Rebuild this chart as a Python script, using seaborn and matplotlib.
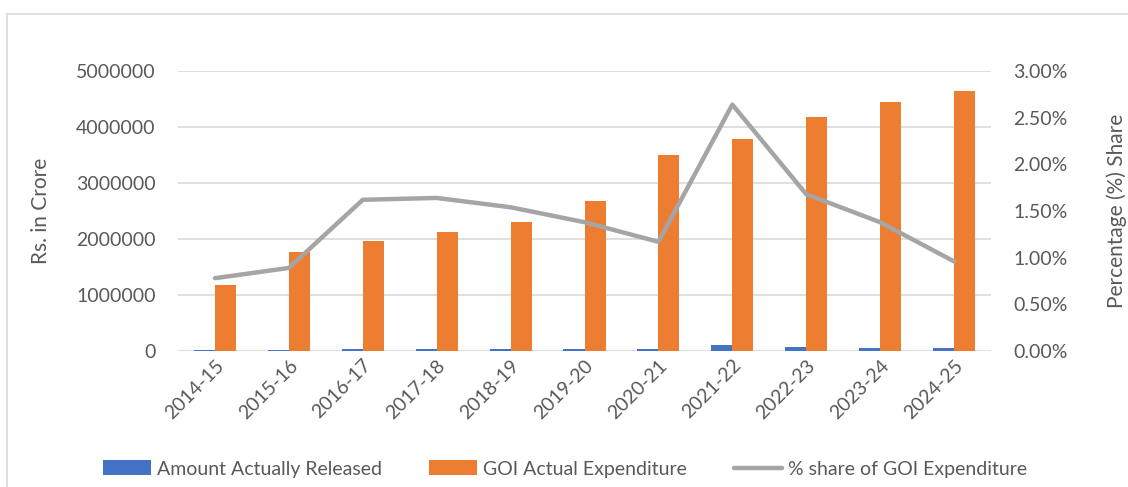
import matplotlib
matplotlib.use("Agg")
import matplotlib.pyplot as plt
import matplotlib.ticker as mticker
from matplotlib.lines import Line2D
from matplotlib.patches import Patch
import pandas as pd
import seaborn as sns

years = ["2014-15", "2015-16", "2016-17", "2017-18", "2018-19", "2019-20",
         "2020-21", "2021-22", "2022-23", "2023-24", "2024-25"]
amount_released = [9000, 16000, 32000, 35000, 35000, 37000,
                   41000, 100000, 70000, 61000, 45000]
goi_expenditure = [1180000, 1770000, 1960000, 2130000, 2300000, 2680000,
                   3500000, 3790000, 4180000, 4450000, 4640000]
pct_share = [0.78, 0.89, 1.62, 1.64, 1.54, 1.38, 1.17, 2.64, 1.68, 1.38, 0.96]

series_names = ["Amount Actually Released", "GOI Actual Expenditure"]
line_name = "% share of GOI Expenditure"
blue, orange, grey = "#4472C4", "#ED7D31", "#A5A5A5"
text_col = "#595959"
grid_col = "#D9D9D9"

sns.set_theme(style="white")
plt.rcParams["font.family"] = ["Lato", "DejaVu Sans"]

df = pd.DataFrame({
    "Year": years * 2,
    "Value": amount_released + goi_expenditure,
    "Series": [series_names[0]] * len(years) + [series_names[1]] * len(years),
})

fig = plt.figure(figsize=(11.28, 4.87), dpi=100)
ax = fig.add_axes([178 / 1128, 1 - 351 / 487, (991 - 178) / 1128, (351 - 71) / 487])

sns.barplot(data=df, x="Year", y="Value", hue="Series", hue_order=series_names,
            palette=[blue, orange], width=0.57, ax=ax, legend=False,
            edgecolor="none", saturation=1, zorder=3)

ax.set_ylim(0, 5000000)
ax.set_xlim(-0.5, len(years) - 0.5)
ax.yaxis.set_major_locator(mticker.MultipleLocator(1000000))
ax.yaxis.set_major_formatter(mticker.FuncFormatter(lambda v, p: f"{int(v)}"))
ax.grid(axis="y", color=grid_col, lw=1.2, zorder=0)
ax.set_axisbelow(True)
for s in ax.spines.values():
    s.set_visible(False)
ax.tick_params(axis="y", length=0, pad=16, labelsize=14, labelcolor=text_col)
ax.tick_params(axis="x", length=0, pad=4, labelsize=14, labelcolor=text_col)
plt.setp(ax.get_xticklabels(), rotation=45, ha="right", rotation_mode="anchor")
ax.set_xlabel("")
ax.set_ylabel("Rs. in Crore", fontsize=15, color=text_col, labelpad=18)

ax2 = ax.twinx()
sns.lineplot(x=list(range(len(years))), y=pct_share, ax=ax2, color=grey,
             lw=3.2, zorder=4)
ax2.set_ylim(0, 3.0)
ax2.yaxis.set_major_locator(mticker.MultipleLocator(0.5))
ax2.yaxis.set_major_formatter(mticker.FuncFormatter(lambda v, p: f"{v:.2f}%"))
for s in ax2.spines.values():
    s.set_visible(False)
ax2.tick_params(axis="y", length=0, pad=16, labelsize=14, labelcolor=text_col)
ax2.set_ylabel("Percentage (%) Share", fontsize=15, color=text_col, labelpad=28)
ax2.grid(False)

handles = [Patch(facecolor=blue, edgecolor="none"),
           Patch(facecolor=orange, edgecolor="none"),
           Line2D([0], [0], color=grey, lw=3.2)]
fig.legend(handles, series_names + [line_name], loc="center",
           bbox_to_anchor=(565 / 1128, 1 - 469 / 487), ncol=3, frameon=False,
           fontsize=14, labelcolor=text_col, handlelength=2.5,
           handleheight=0.8, handletextpad=0.3, columnspacing=2.4)

# chart frame
fig.add_artist(Line2D([7 / 1128, 1.0], [1 - 14 / 487] * 2, color="#D9D9D9", lw=1.2,
                      transform=fig.transFigure))
fig.add_artist(Line2D([7 / 1128] * 2, [0.0, 1 - 14 / 487], color="#D9D9D9", lw=1.2,
                      transform=fig.transFigure))

fig.savefig("out.png", dpi=100, facecolor="white")
